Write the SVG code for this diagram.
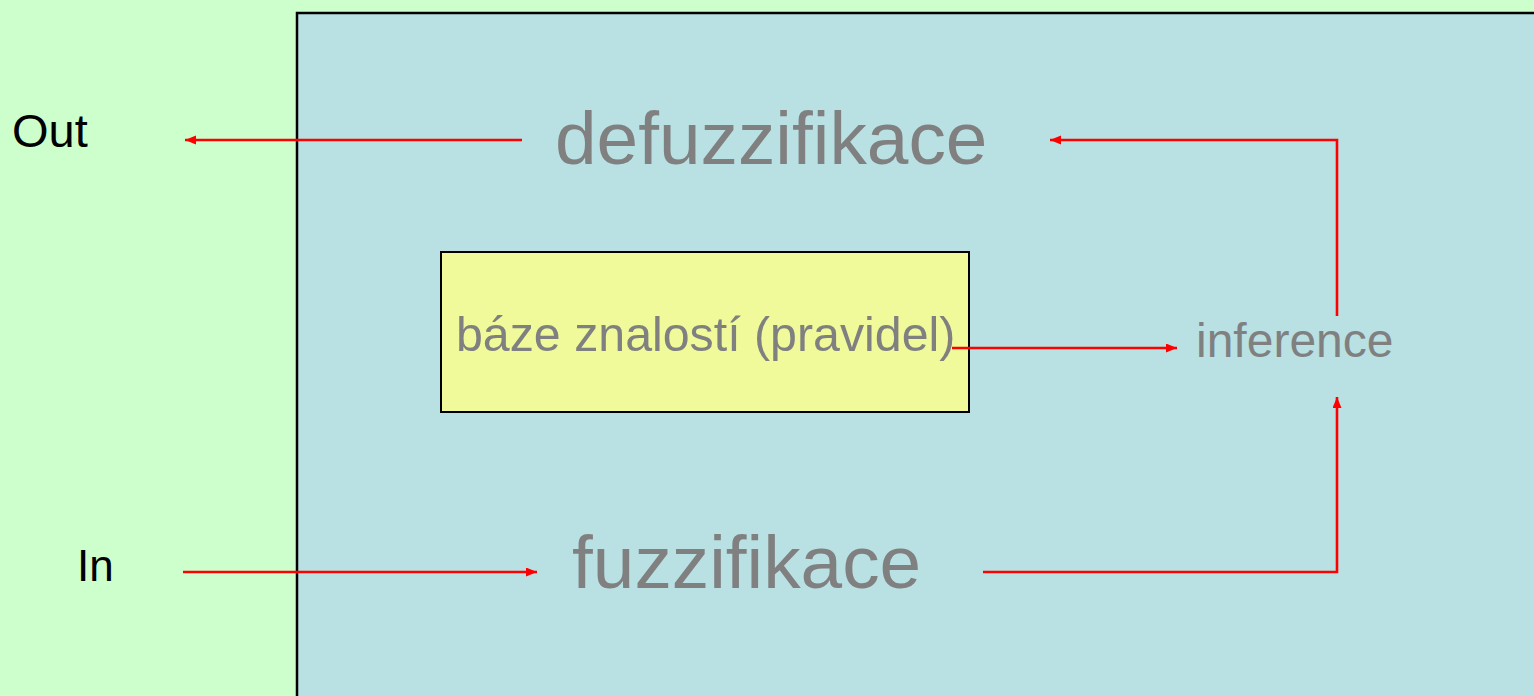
<svg xmlns="http://www.w3.org/2000/svg" width="1534" height="696" viewBox="0 0 1534 696">
<style>
.lbl{font-family:"Liberation Sans",Arial,sans-serif;fill:#808080}
.io{font-family:"Liberation Sans",Arial,sans-serif;fill:#000}
.conn{fill:none;stroke:#FF0000;stroke-width:2.6;marker-end:url(#ah)}
</style>
<defs>
<marker id="ah" markerUnits="userSpaceOnUse" markerWidth="12" markerHeight="10" refX="11" refY="4.5" orient="auto">
<path d="M0,0 L11,4.5 L0,9 z" fill="#FF0000"/>
</marker>
</defs>
<rect x="0" y="0" width="1534" height="696" fill="#CCFFCC"/>
<g id="system">
<rect x="297" y="13" width="1260" height="700" fill="#B9E0E3" stroke="#000" stroke-width="2.5"/>
</g>
<g id="out"><text class="io" x="12" y="147" font-size="47">Out</text></g>
<g id="in"><text class="io" x="77" y="581" font-size="44">In</text></g>
<g id="defuzzifikace"><text class="lbl" x="555" y="164" font-size="74.8">defuzzifikace</text></g>
<g id="fuzzifikace"><text class="lbl" x="572" y="588" font-size="74.8">fuzzifikace</text></g>
<g id="baze">
<rect x="441" y="252" width="528" height="160" fill="#F0FA9A" stroke="#000" stroke-width="2"/>
<text class="lbl" x="456" y="351" font-size="48.3">báze znalostí (pravidel)</text>
</g>
<g id="inference"><text class="lbl" x="1196" y="357" font-size="48">inference</text></g>
<g id="connectors">
<path class="conn" d="M522,140 H185"/>
<path class="conn" d="M1337,316 V140 H1050"/>
<path class="conn" d="M952,348 H1177"/>
<path class="conn" d="M183,572 H537"/>
<path class="conn" d="M983,572 H1337 V397"/>
</g>
</svg>
